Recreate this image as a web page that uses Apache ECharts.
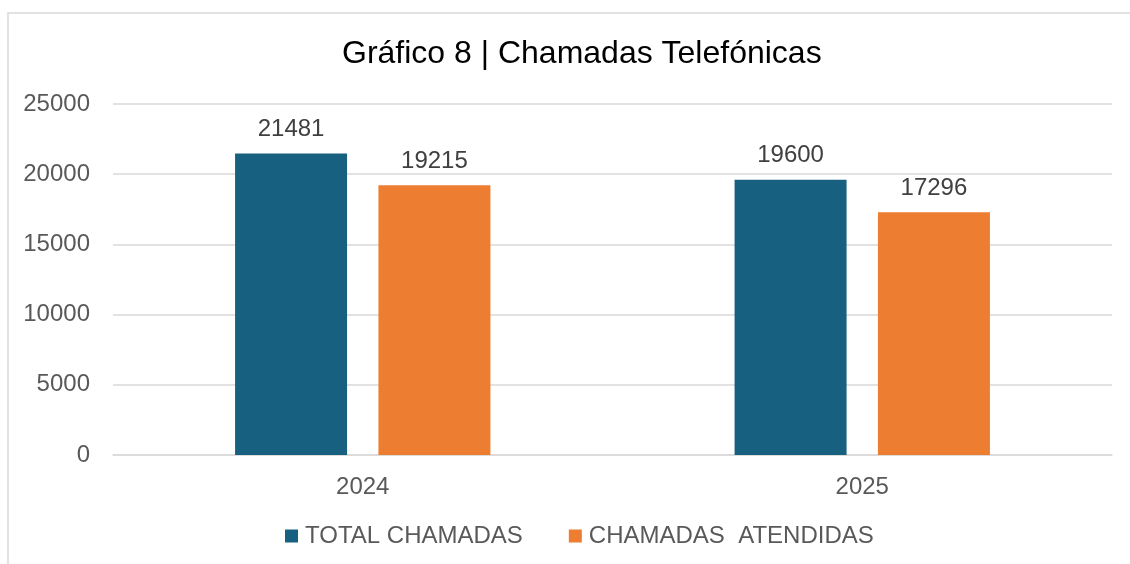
<!DOCTYPE html>
<html>
<head>
<meta charset="utf-8">
<script src="https://cdn.jsdelivr.net/npm/echarts@6/dist/echarts.min.js"></script>
<style>
  html, body { margin: 0; padding: 0; background: #fff; }
  #chart { width: 1130px; height: 564px; }
</style>
</head>
<body>
<div id="chart"></div>
<script>
const years = ["2024", "2025"];
const totalChamadas = [21481, 19600];
const chamadasAtendidas = [19215, 17296];
const seriesNames = ["TOTAL CHAMADAS", "CHAMADAS  ATENDIDAS"];

const font = "'Liberation Sans', Arial, sans-serif";
const blue = "#17607f";
const orange = "#ed7d31";

const chart = echarts.init(document.getElementById("chart"), undefined, { renderer: "canvas" });

const barLabel = {
  show: true,
  position: "top",
  distance: 12,
  fontFamily: font,
  fontSize: 24,
  color: "#404040"
};

chart.setOption({
  animation: false,
  textStyle: { fontFamily: font },
  graphic: [
    {
      type: "rect",
      silent: true,
      shape: { x: 8, y: 13, width: 1300, height: 800 },
      style: { fill: "none", stroke: "#d9d9d9", lineWidth: 1.5 }
    }
  ],
  title: {
    text: "Gráfico 8 | Chamadas Telefónicas",
    left: 337,
    top: 33,
    textStyle: { fontFamily: font, fontSize: 32, fontWeight: "normal", color: "#000" }
  },
  legend: {
    top: 519,
    left: 280,
    itemWidth: 13,
    itemHeight: 13,
    itemGap: 46,
    icon: "rect",
    textStyle: { fontFamily: font, fontSize: 24, color: "#595959", padding: [0, 0, 0, 2] },
    data: seriesNames
  },
  grid: {
    left: 113,
    right: 18,
    top: 104,
    bottom: 109
  },
  xAxis: {
    type: "category",
    data: years,
    axisTick: { show: false },
    axisLine: { lineStyle: { color: "#d9d9d9", width: 1.5 } },
    axisLabel: { fontFamily: font, fontSize: 24, color: "#595959", margin: 20 }
  },
  yAxis: {
    type: "value",
    min: 0,
    max: 25000,
    interval: 5000,
    axisLine: { show: false },
    axisTick: { show: false },
    axisLabel: {
      fontFamily: font,
      fontSize: 24,
      color: "#595959",
      margin: 23,
      formatter: (value) => String(value)
    },
    splitLine: { lineStyle: { color: "#d9d9d9", width: 1.5 } }
  },
  series: [
    {
      name: seriesNames[0],
      type: "bar",
      data: totalChamadas,
      barWidth: 112,
      barGap: "28%",
      itemStyle: { color: blue },
      label: barLabel
    },
    {
      name: seriesNames[1],
      type: "bar",
      data: chamadasAtendidas,
      barWidth: 112,
      itemStyle: { color: orange },
      label: barLabel
    }
  ]
});
</script>
</body>
</html>
